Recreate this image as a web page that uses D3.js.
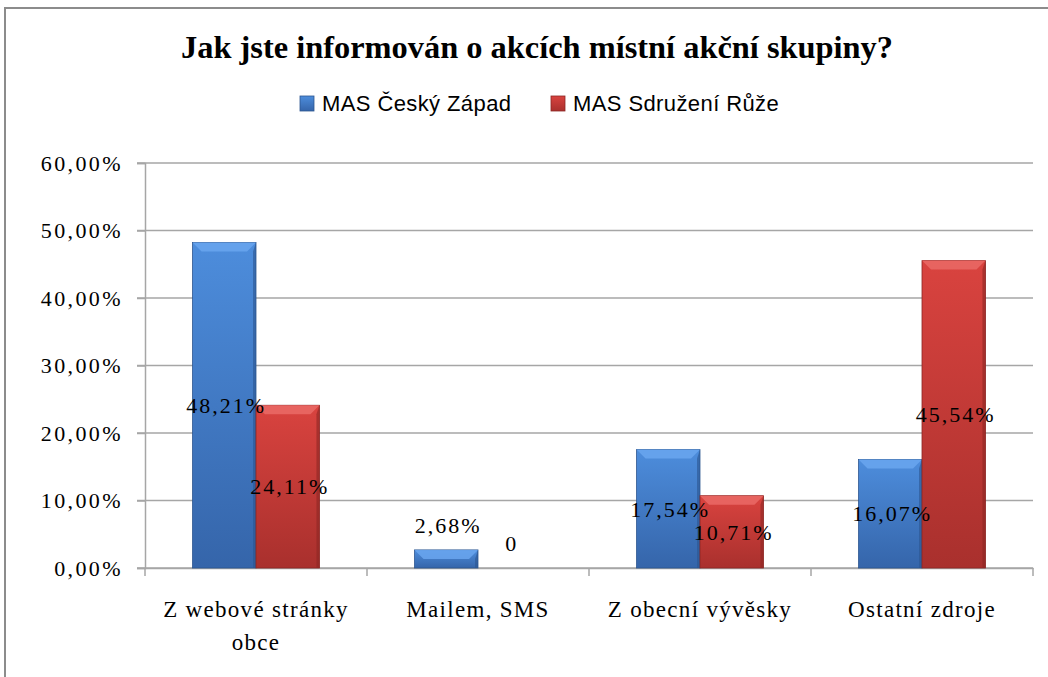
<!DOCTYPE html>
<meta charset="utf-8">
<style>
body { margin: 0; background: #fff; }
text { fill: #000; }
.serif { font-family: "Liberation Serif", "Times New Roman", serif; }
.grid line { stroke: #a6a6a6; stroke-width: 1.5px; }
</style>
<svg width="1048" height="677"></svg>
<script src="https://d3js.org/d3.v7.min.js"></script>
<script>

// data
var categories = ["Z webové stránky obce", "Mailem, SMS", "Z obecní vývěsky", "Ostatní zdroje"];
var seriesNames = ["MAS Český Západ", "MAS Sdružení Růže"];
var ceskyZapad = [48.21, 2.68, 17.54, 16.07];
var sdruzeniRuze = [24.11, 0, 10.71, 45.54];
var yTicks = [0, 10, 20, 30, 40, 50, 60];
var title = "Jak jste informován o akcích místní akční skupiny?";

var svg = d3.select("svg"),
    width = +svg.attr("width"),
    height = +svg.attr("height");

var margin = {top: 163, left: 145, right: 15, bottom: 109};

var fmt = function(v) { return d3.format(".2f")(v).replace(".", ",") + "%"; };

// outer frame
svg.append("path")
    .attr("d", "M5," + (height + 5) + "V8H" + (width + 5))
    .attr("fill", "none")
    .attr("stroke", "#8c8c8c")
    .attr("stroke-width", 2);

var defs = svg.append("defs");
var colors = [
  {id: "blue", top: "#4d8ddc", bottom: "#3565aa", bevel: "#6aa6ee", edge: "#2c5590"},
  {id: "red", top: "#d9433f", bottom: "#a9302d", bevel: "#ea6a66", edge: "#8c2623"}
];
colors.forEach(function(c) {
  var g = defs.append("linearGradient").attr("id", "g-" + c.id)
      .attr("x1", 0).attr("y1", 0).attr("x2", 0).attr("y2", 1);
  g.append("stop").attr("offset", 0).attr("stop-color", c.top);
  g.append("stop").attr("offset", 1).attr("stop-color", c.bottom);
});

var x0 = d3.scaleBand()
    .domain(categories)
    .range([margin.left, width - margin.right])
    .paddingInner(0).paddingOuter(0);

var x1 = d3.scaleBand()
    .domain(seriesNames)
    .range([0, x0.bandwidth()])
    .paddingInner(0)
    .paddingOuter(0.75);

var y = d3.scaleLinear()
    .domain([0, 60])
    .range([height - margin.bottom, margin.top]);

// title
svg.append("text")
    .attr("class", "serif")
    .attr("x", 537)
    .attr("y", 58)
    .attr("text-anchor", "middle")
    .attr("textLength", 712)
    .attr("lengthAdjust", "spacingAndGlyphs")
    .style("font-size", "32px")
    .style("font-weight", "bold")
    .text(title);

// legend
var legend = svg.append("g").attr("transform", "translate(300,111)");
var legX = [0, 251];
seriesNames.forEach(function(name, i) {
  var g = legend.append("g").attr("transform", "translate(" + legX[i] + ",0)");
  g.append("rect").attr("x", 0).attr("y", -15).attr("width", 14).attr("height", 15)
      .attr("fill", "url(#g-" + colors[i].id + ")")
      .attr("stroke", colors[i].edge).attr("stroke-width", 0.8);
  g.append("text").attr("x", 22).attr("y", 0)
      .style("font-family", "'Liberation Sans Narrow', 'Liberation Sans', Arial, sans-serif")
      .style("font-size", "22px")
      .style("letter-spacing", "0.4px")
      .text(name);
});

// gridlines
svg.append("g")
    .attr("class", "grid")
    .selectAll("line")
    .data(yTicks)
    .join("line")
      .attr("x1", margin.left - 8)
      .attr("x2", width - margin.right)
      .attr("y1", function(d) { return y(d); })
      .attr("y2", function(d) { return y(d); });

// y axis
var yAxis = svg.append("g")
    .attr("transform", "translate(" + margin.left + ",0)")
    .call(d3.axisLeft(y).tickValues(yTicks).tickSize(8).tickFormat(function(d) { return d3.format(".2f")(d).replace(".", ",") + "%"; }));
yAxis.select(".domain").attr("stroke", "#a6a6a6").attr("stroke-width", 1.5);
yAxis.selectAll(".tick line").attr("stroke", "#a6a6a6").attr("stroke-width", 1.5);
yAxis.selectAll(".tick text")
    .attr("class", "serif")
    .attr("x", -22)
    .style("font-size", "22px")
    .style("letter-spacing", "2.4px")
    .attr("fill", "#000");

// x axis
var xAxis = svg.append("g")
    .attr("transform", "translate(0," + y(0) + ")")
    .call(d3.axisBottom(x0).tickSize(0).tickFormat(""));
xAxis.select(".domain").attr("stroke", "#a6a6a6").attr("stroke-width", 1.5);
var bounds = categories.map(function(c) { return x0(c); }).concat([x0.range()[1]]);
xAxis.selectAll(".cattick")
    .data(bounds)
    .join("line")
      .attr("x1", function(d) { return d; })
      .attr("x2", function(d) { return d; })
      .attr("y1", 0).attr("y2", 8)
      .attr("stroke", "#a6a6a6").attr("stroke-width", 1.5);

var catLines = [["Z webové stránky", "obce"], ["Mailem, SMS"], ["Z obecní vývěsky"], ["Ostatní zdroje"]];
categories.forEach(function(c, i) {
  var t = svg.append("text")
      .attr("class", "serif")
      .attr("text-anchor", "middle")
      .attr("x", x0(c) + x0.bandwidth() / 2)
      .attr("y", y(0) + 49)
      .style("font-size", "23px")
      .style("letter-spacing", "1.3px");
  catLines[i].forEach(function(line, j) {
    t.append("tspan")
        .attr("x", x0(c) + x0.bandwidth() / 2)
        .attr("dy", j === 0 ? 0 : 33)
        .text(line);
  });
});

// bars
var rows = categories.map(function(c, i) {
  return [{cat: c, s: 0, v: ceskyZapad[i]}, {cat: c, s: 1, v: sdruzeniRuze[i]}];
});
var flat = [].concat.apply([], rows);

var bars = svg.append("g").selectAll("g")
    .data(flat.filter(function(d) { return d.v > 0; }))
    .join("g");

bars.append("rect")
    .attr("x", function(d) { return x0(d.cat) + x1(seriesNames[d.s]); })
    .attr("y", function(d) { return y(d.v); })
    .attr("width", x1.bandwidth())
    .attr("height", function(d) { return y(0) - y(d.v); })
    .attr("fill", function(d) { return "url(#g-" + colors[d.s].id + ")"; })
    .attr("stroke", function(d) { return colors[d.s].edge; })
    .attr("stroke-width", 0.8);

// top bevel
bars.append("path")
    .attr("d", function(d) {
      var bx = x0(d.cat) + x1(seriesNames[d.s]), bw = x1.bandwidth(), by = y(d.v);
      var b = Math.min(9, (y(0) - by) / 2);
      return "M" + bx + "," + by + "H" + (bx + bw) + "L" + (bx + bw - b) + "," + (by + b) +
             "H" + (bx + b) + "Z";
    })
    .attr("fill", function(d) { return colors[d.s].bevel; })
    .attr("opacity", 0.85);

// side shading
bars.append("path")
    .attr("d", function(d) {
      var bx = x0(d.cat) + x1(seriesNames[d.s]), bw = x1.bandwidth(), by = y(d.v);
      var b = Math.min(9, (y(0) - by) / 2);
      return "M" + (bx + bw) + "," + by + "V" + y(0) + "H" + (bx + bw - 3) + "V" + (by + b) + "Z";
    })
    .attr("fill", function(d) { return colors[d.s].edge; })
    .attr("opacity", 0.6);

// data labels
svg.append("g").selectAll("text")
    .data(flat)
    .join("text")
      .attr("class", "serif")
      .attr("text-anchor", "middle")
      .attr("dy", "0.35em")
      .style("font-size", "22px")
      .style("letter-spacing", "2px")
      .attr("x", function(d) { return x0(d.cat) + x1(seriesNames[d.s]) + x1.bandwidth() / 2 + 2; })
      .attr("y", function(d) { return d.v < 5 ? y(d.v) - 25 : y(d.v / 2); })
      .text(function(d) { return d.v === 0 ? "0" : fmt(d.v); });

</script>
